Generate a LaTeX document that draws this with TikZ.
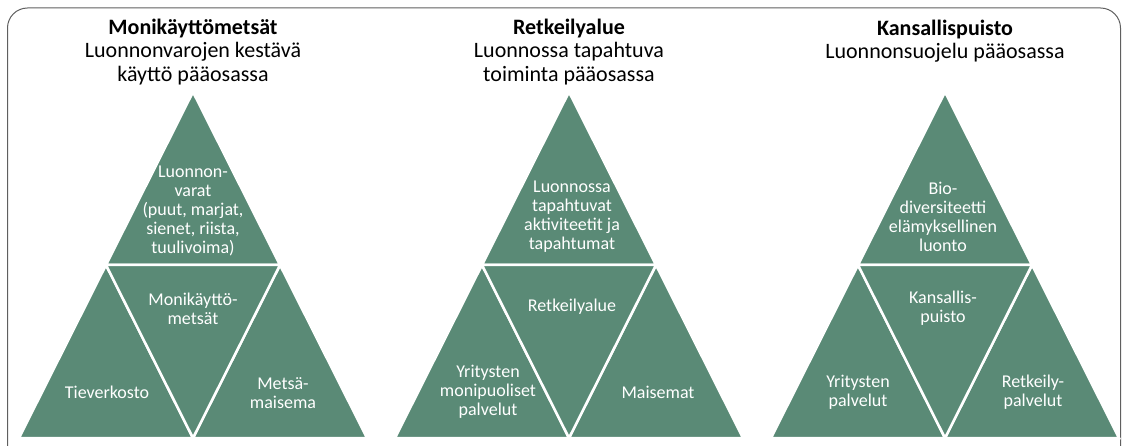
\documentclass[tikz,border=0pt]{standalone}
\usepackage{fontspec}
\setmainfont{Carlito}
\usepackage{xcolor}
\usepackage{tikz}
\definecolor{forest}{HTML}{5A8A76}
\definecolor{frame}{HTML}{5F5F5F}
\def\triforce#1#2{
  \coordinate (#1top) at (#2,92);
  \coordinate (#1bl) at (#2-174,438);
  \coordinate (#1br) at (#2+174,438);
  \coordinate (#1ml) at (#2-87,265);
  \coordinate (#1mr) at (#2+87,265);
  \coordinate (#1mb) at (#2,438);
  \path[piece] (#1top) -- (#1mr) -- (#1ml) -- cycle;
  \path[piece] (#1ml) -- (#1mb) -- (#1bl) -- cycle;
  \path[piece] (#1mr) -- (#1br) -- (#1mb) -- cycle;
  \path[piece] (#1ml) -- (#1mr) -- (#1mb) -- cycle;
}
\tikzstyle{piece}=[fill=forest,draw=white,line width=2.5pt,line join=miter]
\tikzstyle{head}=[align=center,text=black,font=\fontsize{22}{23.5}\selectfont]
\tikzstyle{txt}=[align=center,text=white,inner sep=0pt,font=\fontsize{18}{19}\selectfont]

\begin{document}
\begin{tikzpicture}[x=1pt,y=-1pt]
    \useasboundingbox (0,0) rectangle (1122,446);
    \draw[frame,line width=1pt,rounded corners=20pt] (7.5,8) rectangle (1120.5,470);
    \triforce{a}{193}
    \triforce{b}{569}
    \triforce{c}{945}
    % otsikot
    \node[head] (heada) at (193,52) {\textbf{Monikäyttömetsät}\\Luonnonvarojen kestävä\\käyttö pääosassa};
    \node[head] (headb) at (569,52) {\textbf{Retkeilyalue}\\Luonnossa tapahtuva\\toiminta pääosassa};
    \node[head] (headc) at (945,41) {\textbf{Kansallispuisto}\\Luonnonsuojelu pääosassa};
    % monikäyttömetsät
    \node[txt] (atop) at (193,211) {Luonnon-\\varat\\(puut, marjat,\\sienet, riista,\\tuulivoima)};
    \node[txt] (amid) at (193,309) {Monikäyttö-\\metsät};
    \node[txt] (aleft) at (107,392) {Tieverkosto};
    \node[txt] (aright) at (283,393) {Metsä-\\maisema};
    % retkeilyalue
    \node[txt] (btop) at (572,217) {Luonnossa\\tapahtuvat\\aktiviteetit ja\\tapahtumat};
    \node[txt] (bmid) at (572,307) {Retkeilyalue};
    \node[txt] (bleft) at (488,392) {Yritysten\\monipuoliset\\palvelut};
    \node[txt] (bright) at (658,392) {Maisemat};
    % kansallispuisto
    \node[txt] (ctop) at (943,217) {Bio-\\diversiteetti\\elämyksellinen\\luonto};
    \node[txt] (cmid) at (943,308) {Kansallis-\\puisto};
    \node[txt] (cleft) at (858,392) {Yritysten\\palvelut};
    \node[txt] (cright) at (1033,392) {Retkeily-\\palvelut};
\end{tikzpicture}
\end{document}
